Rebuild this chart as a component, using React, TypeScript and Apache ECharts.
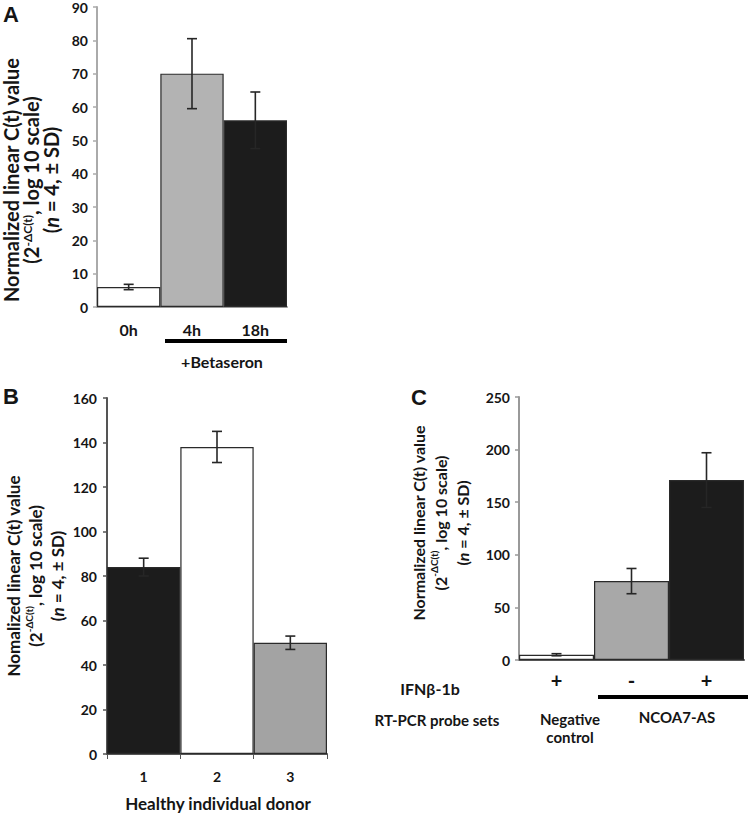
import React, { useEffect, useRef } from "react";
import * as echarts from "echarts";

// Panel A
const aCats = ["0h", "4h", "18h"];
const aVals = [6, 70, 56];
const aErr = [0.8, 10.5, 8.5];
const aColors = ["#ffffff", "#b3b3b3", "#1c1c1c"];
const aTicks = [0, 10, 20, 30, 40, 50, 60, 70, 80, 90];

// Panel B
const bCats = ["1", "2", "3"];
const bVals = [84, 138, 50];
const bErr = [4, 7, 3];
const bColors = ["#1c1c1c", "#ffffff", "#a3a3a3"];
const bTicks = [0, 20, 40, 60, 80, 100, 120, 140, 160];

// Panel C
const cCats = ["+", "-", "+"];
const cVals = [5, 75, 171];
const cErr = [1, 12, 26];
const cColors = ["#ffffff", "#a8a8a8", "#1c1c1c"];
const cTicks = [0, 50, 100, 150, 200, 250];

const FONT = "Lato, 'Noto Sans', sans-serif";
const TXT = "#151515";

function yLabel(x: number, y: number, size: number, lh: number, first: string) {
  const base = { fontSize: size, fontWeight: "bold", fontFamily: FONT, fill: TXT, lineHeight: lh };
  return {
    type: "text",
    x,
    y,
    rotation: Math.PI / 2,
    style: {
      text:
        "{m|" + first + "}\n{m|(2}{s|-ΔC(t)}{m|, log 10 scale)}\n{m|(}{i|n}{m| = 4, ± SD)}",
      align: "center",
      verticalAlign: "middle",
      fill: TXT,
      rich: {
        m: base,
        s: { ...base, fontSize: Math.round(size * 0.6), lineHeight: Math.round(size * 0.6), verticalAlign: "top" },
        i: { ...base, fontStyle: "italic" },
      },
    },
  };
}

function plainText(x: number, y: number, text: string, size: number, align = "center") {
  return {
    type: "text",
    x,
    y,
    style: {
      text,
      align,
      verticalAlign: "middle",
      fill: TXT,
      font: `bold ${size}px ${FONT}`,
    },
  };
}

function errSeries(idx: number, vals: number[], errs: number[], cap: number) {
  return {
    type: "custom",
    xAxisIndex: idx,
    yAxisIndex: idx,
    z: 10,
    data: vals.map((v, i) => [i, v - errs[i], v + errs[i]]),
    renderItem: (params: any, api: any) => {
      const lo = api.coord([api.value(0), api.value(1)]);
      const hi = api.coord([api.value(0), api.value(2)]);
      const st = { stroke: "#262626", lineWidth: 1.6 };
      return {
        type: "group",
        children: [
          { type: "line", shape: { x1: lo[0], y1: lo[1], x2: hi[0], y2: hi[1] }, style: st },
          { type: "line", shape: { x1: lo[0] - cap, y1: lo[1], x2: lo[0] + cap, y2: lo[1] }, style: st },
          { type: "line", shape: { x1: hi[0] - cap, y1: hi[1], x2: hi[0] + cap, y2: hi[1] }, style: st },
        ],
      };
    },
  };
}

function barSeries(idx: number, vals: number[], colors: string[]) {
  return {
    type: "bar",
    xAxisIndex: idx,
    yAxisIndex: idx,
    barCategoryGap: "0%",
    data: vals.map((v, i) => ({
      value: v,
      itemStyle: { color: colors[i], borderColor: "#2a2a2a", borderWidth: 1.2 },
    })),
  };
}

function yAxis(idx: number, ticks: number[], lineColor: string, margin: number) {
  return {
    type: "value",
    gridIndex: idx,
    min: ticks[0],
    max: ticks[ticks.length - 1],
    interval: ticks[1] - ticks[0],
    splitLine: { show: false },
    axisLine: { show: true, lineStyle: { color: lineColor, width: 2 } },
    axisTick: { show: true, length: 4, lineStyle: { color: lineColor, width: 1.5 } },
    axisLabel: { margin, color: TXT, fontSize: 14, fontWeight: "bold", fontFamily: FONT },
  };
}

function xAxis(idx: number, cats: string[], lineColor: string, ticks: boolean, size: number, margin: number) {
  return {
    type: "category",
    gridIndex: idx,
    data: cats,
    axisLine: { show: true, lineStyle: { color: lineColor, width: 2 } },
    axisTick: { show: ticks, length: 5, lineStyle: { color: lineColor } },
    axisLabel: { margin, color: TXT, fontSize: size, fontWeight: "bold", fontFamily: FONT },
  };
}

export default function App() {
  const ref = useRef<HTMLDivElement>(null);
  useEffect(() => {
    if (!ref.current) return;
    const chart = echarts.init(ref.current, null, { renderer: "svg" });
    chart.setOption({
      animation: false,
      backgroundColor: "#ffffff",
      grid: [
        { left: 97, top: 6, width: 190, height: 301 },
        { left: 107, top: 398, width: 220, height: 356 },
        { left: 519, top: 397, width: 225, height: 263 },
      ],
      xAxis: [
        xAxis(0, aCats, "#9a9a9a", false, 16, 14),
        xAxis(1, bCats, "#555555", true, 14, 15),
        xAxis(2, cCats, "#555555", false, 20, 10),
      ],
      yAxis: [
        yAxis(0, aTicks, "#aaaaaa", 9),
        yAxis(1, bTicks, "#555555", 10),
        yAxis(2, cTicks, "#999999", 9),
      ],
      series: [
        barSeries(0, aVals, aColors),
        errSeries(0, aVals, aErr, 5),
        barSeries(1, bVals, bColors),
        errSeries(1, bVals, bErr, 5),
        barSeries(2, cVals, cColors),
        errSeries(2, cVals, cErr, 5),
      ],
      graphic: [
        { type: "text", x: 3, y: 3, style: { text: "A", font: "bold 22px 'Liberation Sans', Arial, sans-serif", fill: TXT } },
        { type: "text", x: 3, y: 385, style: { text: "B", font: "bold 22px 'Liberation Sans', Arial, sans-serif", fill: TXT } },
        { type: "text", x: 411, y: 386, style: { text: "C", font: "bold 22px 'Liberation Sans', Arial, sans-serif", fill: TXT } },
        yLabel(31, 180, 20, 20, "Normalized linear C(t) value"),
        yLabel(35, 576, 17, 22, "Nomalized linear C(t) value"),
        yLabel(440, 523, 16, 22, "Normalized linear C(t) value"),
        { type: "rect", shape: { x: 165, y: 339, width: 122, height: 4 }, style: { fill: "#000" } },
        plainText(222, 361, "+Betaseron", 16),
        plainText(218, 803, "Healthy individual donor", 17),
        plainText(430, 688, "IFNβ-1b", 16),
        plainText(437, 720, "RT-PCR probe sets", 15),
        { type: "rect", shape: { x: 598, y: 695, width: 150, height: 4 }, style: { fill: "#000" } },
        plainText(570, 719, "Negative", 15),
        plainText(570, 737, "control", 15),
        plainText(677, 717, "NCOA7-AS", 15),
      ],
    });
    return () => chart.dispose();
  }, []);
  return (
    <div
      ref={ref}
      style={{ position: "fixed", left: 0, top: 0, width: 750, height: 813, background: "#fff" }}
    />
  );
}
